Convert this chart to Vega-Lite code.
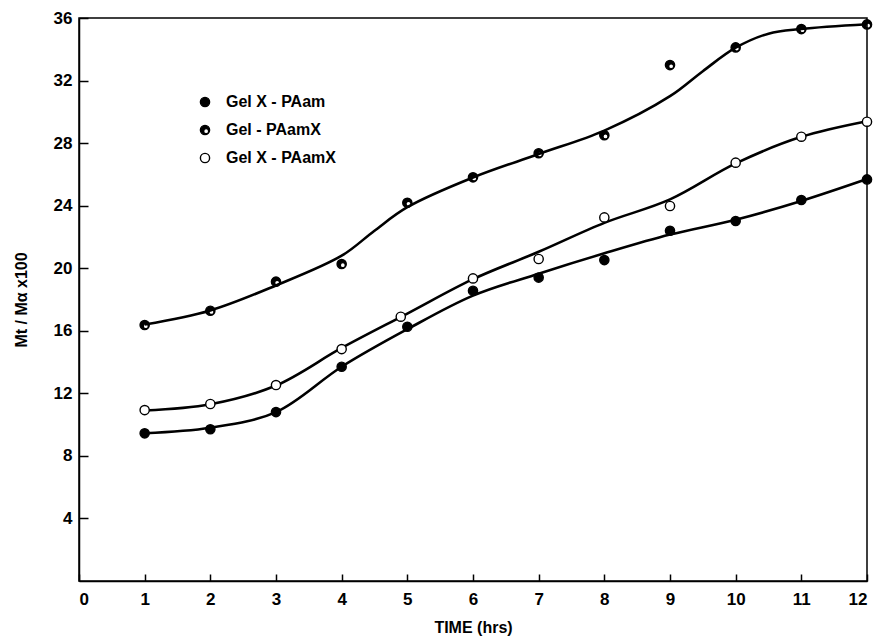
{
  "$schema": "https://vega.github.io/schema/vega-lite/v6.json",
  "width": 788,
  "height": 563,
  "autosize": {"type": "none"},
  "padding": {"left": 79, "top": 18, "right": 14, "bottom": 59},
  "background": "white",
  "config": {
    "view": {"stroke": "black", "strokeWidth": 1.5},
    "font": "Liberation Sans",
    "axis": {
      "grid": false,
      "domainColor": "black",
      "domainWidth": 1.5,
      "tickColor": "black",
      "tickWidth": 1.5,
      "labelColor": "black",
      "labelFont": "Liberation Sans",
      "labelFontWeight": "bold",
      "labelFontSize": 17,
      "titleColor": "black",
      "titleFont": "Liberation Sans",
      "titleFontWeight": "bold",
      "titleFontSize": 16
    }
  },
  "datasets": {
    "obs": [
      {"t": 1, "m": 9.44, "series": "Gel X - PAam"},
      {"t": 2, "m": 9.7, "series": "Gel X - PAam"},
      {"t": 3, "m": 10.8, "series": "Gel X - PAam"},
      {"t": 4, "m": 13.7, "series": "Gel X - PAam"},
      {"t": 5, "m": 16.26, "series": "Gel X - PAam"},
      {"t": 6, "m": 18.56, "series": "Gel X - PAam"},
      {"t": 7, "m": 19.4, "series": "Gel X - PAam"},
      {"t": 8, "m": 20.52, "series": "Gel X - PAam"},
      {"t": 9, "m": 22.4, "series": "Gel X - PAam"},
      {"t": 10, "m": 23.02, "series": "Gel X - PAam"},
      {"t": 11, "m": 24.36, "series": "Gel X - PAam"},
      {"t": 12, "m": 25.68, "series": "Gel X - PAam"},
      {"t": 1, "m": 16.37, "series": "Gel - PAamX"},
      {"t": 2, "m": 17.28, "series": "Gel - PAamX"},
      {"t": 3, "m": 19.14, "series": "Gel - PAamX"},
      {"t": 4, "m": 20.27, "series": "Gel - PAamX"},
      {"t": 5, "m": 24.19, "series": "Gel - PAamX"},
      {"t": 6, "m": 25.81, "series": "Gel - PAamX"},
      {"t": 7, "m": 27.35, "series": "Gel - PAamX"},
      {"t": 8, "m": 28.5, "series": "Gel - PAamX"},
      {"t": 9, "m": 32.99, "series": "Gel - PAamX"},
      {"t": 10, "m": 34.12, "series": "Gel - PAamX"},
      {"t": 11, "m": 35.29, "series": "Gel - PAamX"},
      {"t": 12, "m": 35.59, "series": "Gel - PAamX"},
      {"t": 1, "m": 10.93, "series": "Gel X - PAamX"},
      {"t": 2, "m": 11.32, "series": "Gel X - PAamX"},
      {"t": 3, "m": 12.53, "series": "Gel X - PAamX"},
      {"t": 4, "m": 14.83, "series": "Gel X - PAamX"},
      {"t": 4.9, "m": 16.9, "series": "Gel X - PAamX"},
      {"t": 6, "m": 19.35, "series": "Gel X - PAamX"},
      {"t": 7, "m": 20.59, "series": "Gel X - PAamX"},
      {"t": 8, "m": 23.25, "series": "Gel X - PAamX"},
      {"t": 9, "m": 23.98, "series": "Gel X - PAamX"},
      {"t": 10, "m": 26.75, "series": "Gel X - PAamX"},
      {"t": 11, "m": 28.41, "series": "Gel X - PAamX"},
      {"t": 12, "m": 29.37, "series": "Gel X - PAamX"}
    ],
    "curve": [
      {"t": 1, "m": 9.45, "series": "Gel X - PAam"},
      {"t": 2, "m": 9.8, "series": "Gel X - PAam"},
      {"t": 3, "m": 10.8, "series": "Gel X - PAam"},
      {"t": 4, "m": 13.7, "series": "Gel X - PAam"},
      {"t": 5, "m": 16.1, "series": "Gel X - PAam"},
      {"t": 6, "m": 18.25, "series": "Gel X - PAam"},
      {"t": 7, "m": 19.65, "series": "Gel X - PAam"},
      {"t": 8, "m": 20.95, "series": "Gel X - PAam"},
      {"t": 9, "m": 22.15, "series": "Gel X - PAam"},
      {"t": 10, "m": 23.1, "series": "Gel X - PAam"},
      {"t": 11, "m": 24.3, "series": "Gel X - PAam"},
      {"t": 12, "m": 25.7, "series": "Gel X - PAam"},
      {"t": 1, "m": 16.4, "series": "Gel - PAamX"},
      {"t": 2, "m": 17.3, "series": "Gel - PAamX"},
      {"t": 3, "m": 18.9, "series": "Gel - PAamX"},
      {"t": 4, "m": 20.8, "series": "Gel - PAamX"},
      {"t": 4.5, "m": 22.4, "series": "Gel - PAamX"},
      {"t": 5, "m": 23.9, "series": "Gel - PAamX"},
      {"t": 6, "m": 25.8, "series": "Gel - PAamX"},
      {"t": 7, "m": 27.3, "series": "Gel - PAamX"},
      {"t": 8, "m": 28.8, "series": "Gel - PAamX"},
      {"t": 9, "m": 31.0, "series": "Gel - PAamX"},
      {"t": 9.5, "m": 32.6, "series": "Gel - PAamX"},
      {"t": 10, "m": 34.1, "series": "Gel - PAamX"},
      {"t": 10.5, "m": 35.0, "series": "Gel - PAamX"},
      {"t": 11, "m": 35.3, "series": "Gel - PAamX"},
      {"t": 12, "m": 35.6, "series": "Gel - PAamX"},
      {"t": 1, "m": 10.9, "series": "Gel X - PAamX"},
      {"t": 2, "m": 11.3, "series": "Gel X - PAamX"},
      {"t": 3, "m": 12.5, "series": "Gel X - PAamX"},
      {"t": 4, "m": 14.9, "series": "Gel X - PAamX"},
      {"t": 5, "m": 17.1, "series": "Gel X - PAamX"},
      {"t": 6, "m": 19.3, "series": "Gel X - PAamX"},
      {"t": 7, "m": 21.05, "series": "Gel X - PAamX"},
      {"t": 8, "m": 22.9, "series": "Gel X - PAamX"},
      {"t": 9, "m": 24.4, "series": "Gel X - PAamX"},
      {"t": 10, "m": 26.7, "series": "Gel X - PAamX"},
      {"t": 11, "m": 28.4, "series": "Gel X - PAamX"},
      {"t": 12, "m": 29.4, "series": "Gel X - PAamX"}
    ]
  },
  "encoding": {
    "x": {
      "field": "t",
      "type": "quantitative",
      "scale": {"domain": [0, 12], "nice": false},
      "axis": {
        "title": "TIME (hrs)",
        "values": [0, 1, 2, 3, 4, 5, 6, 7, 8, 9, 10, 11, 12],
        "tickSize": -7,
        "labelPadding": 17,
        "titlePadding": 12
      }
    },
    "y": {
      "field": "m",
      "type": "quantitative",
      "scale": {"domain": [0, 36], "nice": false},
      "axis": {
        "title": "Mt / Mα x100",
        "values": [4, 8, 12, 16, 20, 24, 28, 32, 36],
        "tickSize": -9,
        "labelPadding": 16,
        "titlePadding": 24
      }
    }
  },
  "layer": [
    {
      "data": {"name": "curve"},
      "mark": {"type": "line", "interpolate": "catmull-rom", "stroke": "black", "strokeWidth": 2.6},
      "encoding": {"detail": {"field": "series"}}
    },
    {
      "data": {"name": "obs"},
      "mark": {"type": "point", "filled": true, "size": 85, "stroke": "black", "strokeWidth": 1.4, "opacity": 1},
      "encoding": {
        "shape": {
          "field": "series",
          "type": "nominal",
          "scale": {
            "domain": ["Gel X - PAam", "Gel - PAamX", "Gel X - PAamX"],
            "range": [
              "circle",
              "M 1 0 A 1 1 0 1 1 -1 0 A 1 1 0 1 1 1 0 Z M 0.8 0.25 A 0.55 0.55 0 1 0 -0.3 0.25 A 0.55 0.55 0 1 0 0.8 0.25 Z",
              "circle"
            ]
          },
          "legend": {
            "title": null,
            "orient": "none",
            "legendX": 118,
            "legendY": 76,
            "labelFont": "Liberation Sans",
            "labelFontWeight": "bold",
            "labelFontSize": 16,
            "labelColor": "black",
            "labelOffset": 13,
            "rowPadding": 12,
            "symbolSize": 85,
            "symbolStrokeWidth": 1.4,
            "symbolStrokeColor": "black",
            "symbolOpacity": 1,
            "encode": {
              "symbols": {"update": {"stroke": {"value": "black"}, "strokeWidth": {"value": 1.4}}}
            }
          }
        },
        "fill": {
          "field": "series",
          "type": "nominal",
          "scale": {
            "domain": ["Gel X - PAam", "Gel - PAamX", "Gel X - PAamX"],
            "range": ["black", "black", "white"]
          },
          "legend": {
            "title": null,
            "orient": "none",
            "legendX": 118,
            "legendY": 76,
            "labelFont": "Liberation Sans",
            "labelFontWeight": "bold",
            "labelFontSize": 16,
            "labelColor": "black",
            "labelOffset": 13,
            "rowPadding": 12,
            "symbolSize": 85,
            "symbolStrokeWidth": 1.4,
            "symbolStrokeColor": "black",
            "symbolOpacity": 1,
            "encode": {
              "symbols": {"update": {"stroke": {"value": "black"}, "strokeWidth": {"value": 1.4}}}
            }
          }
        }
      }
    }
  ]
}
